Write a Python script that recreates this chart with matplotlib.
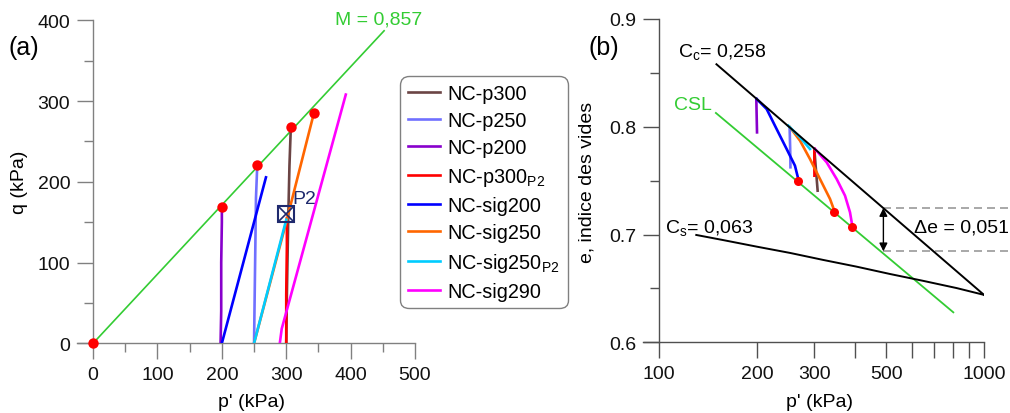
import matplotlib
matplotlib.use('Agg')
import matplotlib.pyplot as plt
from matplotlib.ticker import FixedLocator, FixedFormatter, NullLocator

plt.rcParams['font.family'] = ['Liberation Sans', 'DejaVu Sans']
plt.rcParams['mathtext.fontset'] = 'custom'
plt.rcParams['mathtext.rm'] = 'Liberation Sans'
plt.rcParams['mathtext.it'] = 'Liberation Sans:italic'
plt.rcParams['mathtext.bf'] = 'Liberation Sans:bold'

FS = 14

# ---------------- series names / colours ----------------
labels = ['NC-p300', 'NC-p250', 'NC-p200', r'NC-p300$_\mathrm{P2}$',
          'NC-sig200', 'NC-sig250', r'NC-sig250$_\mathrm{P2}$', 'NC-sig290']
colors = ['#6b4444', '#7070ff', '#8800cc', '#ff0000',
          '#0000ff', '#ff6600', '#00ccff', '#ff00ff']

# ---------------- panel (a): q vs p' ----------------
a_p300_p = [300, 301, 303, 305, 307]
a_p300_q = [0, 60, 150, 220, 265]
a_p250_p = [250, 251, 252, 253, 255]
a_p250_q = [0, 60, 120, 180, 221]
a_p200_p = [198, 199, 199, 200, 200]
a_p200_q = [0, 40, 100, 150, 169]
a_p300P2_p = [300, 300, 301, 301]
a_p300P2_q = [0, 60, 120, 155]
a_sig200_p = [200, 268.5]
a_sig200_q = [0, 205.5]
a_sig250_p = [250, 300, 335, 343]
a_sig250_q = [0, 150, 260, 285]
a_sig250P2_p = [250, 300]
a_sig250P2_q = [0, 153]
a_sig290_p = [290, 293, 392.5]
a_sig290_q = [0, 18, 308]

a_series_p = [a_p300_p, a_p250_p, a_p200_p, a_p300P2_p,
              a_sig200_p, a_sig250_p, a_sig250P2_p, a_sig290_p]
a_series_q = [a_p300_q, a_p250_q, a_p200_q, a_p300P2_q,
              a_sig200_q, a_sig250_q, a_sig250P2_q, a_sig290_q]

csl_a_p = [0, 452]
csl_a_q = [0, 387]
fail_a_p = [0, 200, 255, 308, 343]
fail_a_q = [0, 169, 221, 267.5, 285]
p2_p = [300]
p2_q = [160]

# ---------------- panel (b): e vs log p' ----------------
b_p300_p = [300.2, 307.4]
b_p300_e = [0.7794, 0.7407]
b_p250_p = [252, 253, 253.5]
b_p250_e = [0.7995, 0.780, 0.7624]
b_p200_p = [199, 199.5, 200]
b_p200_e = [0.8258, 0.810, 0.7948]
b_p300P2_p = [300.2, 300.5]
b_p300P2_e = [0.7794, 0.7546]
b_sig200_p = [199.5, 214.1, 229.8, 246.7, 261.7, 268.0]
b_sig200_e = [0.8258, 0.8165, 0.7979, 0.7794, 0.7639, 0.7515]
b_sig250_p = [252.6, 271.3, 291.1, 312.6, 335.6, 346.0]
b_sig250_e = [0.7995, 0.7871, 0.7701, 0.7515, 0.7330, 0.7221]
b_sig250P2_p = [249.6, 271.3, 291.1]
b_sig250P2_e = [0.8010, 0.7902, 0.7794]
b_sig290_p = [301.7, 327.7, 351.8, 373.2, 386.7, 393.0]
b_sig290_e = [0.7794, 0.7670, 0.7515, 0.7361, 0.7206, 0.7082]

b_series_p = [b_p300_p, b_p250_p, b_p200_p, b_p300P2_p,
              b_sig200_p, b_sig250_p, b_sig250P2_p, b_sig290_p]
b_series_e = [b_p300_e, b_p250_e, b_p200_e, b_p300P2_e,
              b_sig200_e, b_sig250_e, b_sig250P2_e, b_sig290_e]

ncl_p = [150, 1000]
ncl_e = [0.858, 0.644]
cs_p = [130, 157, 200, 253, 320, 405, 513, 650, 824, 1000]
cs_e = [0.6996, 0.6949, 0.6887, 0.6829, 0.6764, 0.6702, 0.6634, 0.6570, 0.6503, 0.6440]
csl_b_p = [149.4, 804.6]
csl_b_e = [0.8128, 0.6278]
fail_b_p = [268.0, 346.0, 393.0]
fail_b_e = [0.7494, 0.7212, 0.7073]
de_p = [490, 1186]
de_upper = 0.7246
de_lower = 0.6844

# ---------------- figure ----------------
fig = plt.figure(figsize=(10.10, 4.14), dpi=100)
ax1 = fig.add_axes([0.07624, 0.1684, 0.33465, 0.7802])
ax2 = fig.add_axes([0.63663, 0.1708, 0.33762, 0.7809])

green = '#33cc33'
LW = 1.9

# panel (a)
ax1.plot(csl_a_p, csl_a_q, color=green, lw=1.2, zorder=2)
for i in range(len(labels)):
    ax1.plot(a_series_p[i], a_series_q[i], color=colors[i], lw=LW,
             label=labels[i], zorder=3 + i * 0.1)
ax1.plot(fail_a_p, fail_a_q, 'o', color='#ff0000', ms=7.5, mec='none',
         zorder=6, clip_on=False)
navy = '#1f2a6e'
ax1.plot(p2_p, p2_q, 's', ms=11, mfc='none', mec=navy, mew=1.5, zorder=7)
ax1.plot(p2_p, p2_q, 'x', ms=11, mec=navy, mew=1.2, zorder=7)
ax1.text(310, 179, 'P2', color=navy, fontsize=FS, ha='left', va='center')
ax1.text(376, 402, 'M = 0,857', color=green, fontsize=FS, ha='left',
         va='center', clip_on=False)

ax1.set_xlim(-25, 500)
ax1.set_ylim(0, 400)
ax1.spines['left'].set_position(('data', 0))
for s in ['top', 'right']:
    ax1.spines[s].set_visible(False)
sc1 = '#808080'
for s in ['left', 'bottom']:
    ax1.spines[s].set_color(sc1)
    ax1.spines[s].set_linewidth(1.0)
ax1.xaxis.set_major_locator(FixedLocator([0, 100, 200, 300, 400, 500]))
ax1.xaxis.set_minor_locator(FixedLocator([50, 150, 250, 350, 450]))
ax1.yaxis.set_major_locator(FixedLocator([0, 100, 200, 300, 400]))
ax1.yaxis.set_minor_locator(FixedLocator([50, 150, 250, 350]))
ax1.tick_params(which='major', length=11.5, width=1.0, color=sc1,
                labelsize=FS, pad=5, labelcolor='#111111')
ax1.tick_params(which='minor', length=6.5, width=1.0, color=sc1)

leg = ax1.legend(loc='upper left', bbox_to_anchor=(400 / 1010, 1 - 77 / 414),
                 bbox_transform=fig.transFigure, borderaxespad=0,
                 fontsize=14.3, handlelength=1.65, handletextpad=0.36,
                 borderpad=0.38, labelspacing=0.42, frameon=True,
                 fancybox=True, framealpha=1, edgecolor='#808080')
leg.get_frame().set_linewidth(1.0)
leg.get_frame().set_boxstyle('round,pad=0,rounding_size=0.45')

# panel (b)
for i in range(len(labels)):
    ax2.plot(b_series_p[i], b_series_e[i], color=colors[i], lw=LW, zorder=3 + i * 0.1)
ax2.plot(csl_b_p, csl_b_e, color=green, lw=1.3, zorder=2)
ax2.plot(ncl_p, ncl_e, color='black', lw=1.4, zorder=5)
ax2.plot(cs_p, cs_e, color='black', lw=1.4, zorder=5)
ax2.plot(fail_b_p, fail_b_e, 'o', color='#ff0000', ms=6.5, mec='none', zorder=6)
ax2.plot(de_p, [de_upper, de_upper], color='#999999', lw=1.2,
         ls=(0, (4.8, 3)), clip_on=False, zorder=1)
ax2.plot(de_p, [de_lower, de_lower], color='#999999', lw=1.2,
         ls=(0, (4.8, 3)), clip_on=False, zorder=1)
ax2.annotate('', xy=(de_p[0], de_lower), xytext=(de_p[0], de_upper),
             arrowprops=dict(arrowstyle='<|-|>', color='black', lw=1.0,
                             mutation_scale=12, shrinkA=0, shrinkB=0),
             zorder=6)

ax2.set_xscale('log')
ax2.set_xlim(89.1, 1000)
ax2.set_ylim(0.6, 0.9)
ax2.spines['left'].set_position(('data', 100))
for s in ['top', 'right']:
    ax2.spines[s].set_visible(False)
sc2 = '#505050'
for s in ['left', 'bottom']:
    ax2.spines[s].set_color(sc2)
    ax2.spines[s].set_linewidth(1.0)
ax2.xaxis.set_major_locator(FixedLocator([100, 200, 300, 400, 500, 600, 700, 800, 900, 1000]))
ax2.xaxis.set_major_formatter(FixedFormatter(['100', '200', '300', '', '500', '', '', '', '', '1000']))
ax2.xaxis.set_minor_locator(NullLocator())
ax2.yaxis.set_major_locator(FixedLocator([0.6, 0.7, 0.8, 0.9]))
ax2.yaxis.set_major_formatter(FixedFormatter(['0.6', '0.7', '0.8', '0.9']))
ax2.yaxis.set_minor_locator(FixedLocator([0.65, 0.75, 0.85]))
ax2.tick_params(which='major', length=11.5, width=1.0, color=sc2,
                labelsize=FS, pad=5, labelcolor='#111111')
ax2.tick_params(which='minor', length=6.5, width=1.0, color=sc2)

# texts
fig.text(8 / 1010, 1 - 48 / 414, '(a)', fontsize=18, ha='left', va='center')
fig.text(588 / 1010, 1 - 48 / 414, '(b)', fontsize=18, ha='left', va='center')
fig.text(251 / 1010, 1 - 403 / 414, "p' (kPa)", fontsize=FS, ha='center', va='center')
fig.text(819 / 1010, 1 - 403 / 414, "p' (kPa)", fontsize=FS, ha='center', va='center')
fig.text(20 / 1010, 1 - 182 / 414, 'q (kPa)', fontsize=FS, ha='center',
         va='center', rotation=90)
fig.text(587 / 1010, 1 - 182 / 414, 'e, indice des vides', fontsize=FS,
         ha='center', va='center', rotation=90)
fig.text(678 / 1010, 1 - 56.7 / 414, r'C$_\mathrm{c}$= 0,258', fontsize=FS,
         ha='left', va='baseline')
fig.text(674 / 1010, 1 - 110 / 414, 'CSL', fontsize=FS, color=green,
         ha='left', va='baseline')
fig.text(665 / 1010, 1 - 233 / 414, r'C$_\mathrm{s}$= 0,063', fontsize=FS,
         ha='left', va='baseline')
fig.text(914 / 1010, 1 - 232.7 / 414, '\u0394e = 0,051', fontsize=FS,
         ha='left', va='baseline')

fig.savefig('out.png', dpi=100)
